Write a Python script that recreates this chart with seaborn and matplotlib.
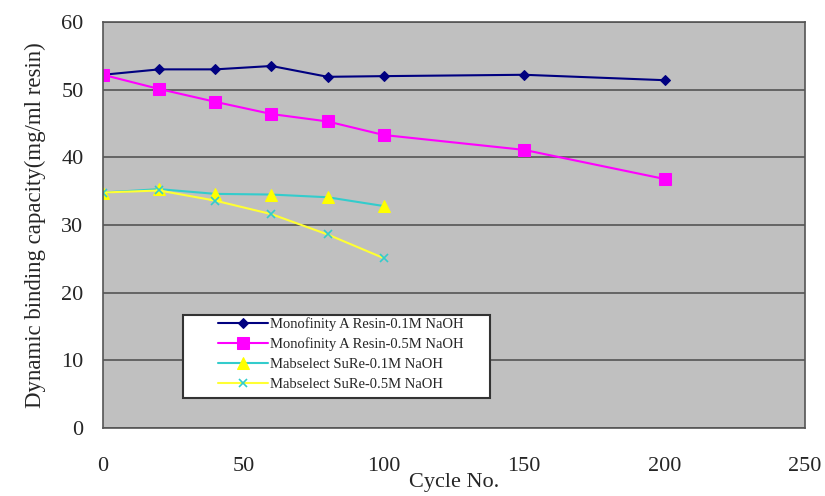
import matplotlib
matplotlib.use("Agg")
import matplotlib.pyplot as plt
from matplotlib.patches import Rectangle
import seaborn as sns
import pandas as pd

cycles_long = [0, 20, 40, 60, 80, 100, 150, 200]
mono_01 = [52.2, 53.0, 53.0, 53.5, 51.9, 52.0, 52.2, 51.4]
mono_05 = [52.2, 50.1, 48.2, 46.4, 45.3, 43.3, 41.1, 36.8]
cycles_short = [0, 20, 40, 60, 80, 100]
mab_01 = [34.8, 35.3, 34.6, 34.5, 34.1, 32.8]
mab_05 = [34.8, 35.1, 33.6, 31.6, 28.6, 25.1]

labels = ["Monofinity A Resin-0.1M NaOH", "Monofinity A Resin-0.5M NaOH",
          "Mabselect SuRe-0.1M NaOH", "Mabselect SuRe-0.5M NaOH"]
x_ticks = [0, 50, 100, 150, 200, 250]
y_ticks = [0, 10, 20, 30, 40, 50, 60]

sns.set_theme(style="white")
plt.rcParams['font.family'] = ['Liberation Serif', 'DejaVu Serif']

W, H = 825, 496
L, R, T, B = 103, 805, 22, 428
fig = plt.figure(figsize=(W/100, H/100), dpi=100)
ax = fig.add_axes([L/W, 1-B/H, (R-L)/W, (B-T)/H])
ax.set_facecolor("#c0c0c0")

styles = [
    dict(color="#000080", marker="D", markersize=5, markerfacecolor="#000080", markeredgecolor="#000080", linewidth=1.5),
    dict(color="#ff00ff", marker="s", markersize=8, markerfacecolor="#ff00ff", markeredgecolor="#ff00ff", linewidth=1.5),
    dict(color="#33cccc", marker="^", markersize=8, markerfacecolor="#ffff00", markeredgecolor="#ffff00", linewidth=1.5),
    dict(color="#ffff33", marker="x", markersize=6, markerfacecolor="#33cccc", markeredgecolor="#33cccc", markeredgewidth=1.2, linewidth=1.5),
]
series = [(cycles_long, mono_01), (cycles_long, mono_05), (cycles_short, mab_01), (cycles_short, mab_05)]
for (xs, ys), lab, st in zip(series, labels, styles):
    df = pd.DataFrame({"x": xs, "y": ys})
    sns.lineplot(data=df, x="x", y="y", ax=ax, label=lab, **st)

ax.set_xlim(0, 250)
ax.set_ylim(0, 60)
ax.set_xticks(x_ticks)
ax.set_yticks(y_ticks)
ax.yaxis.grid(True, color="#555555", linewidth=1.2)
ax.set_axisbelow(True)
for s in ax.spines.values():
    s.set_color("#555555")
    s.set_linewidth(1.2)
ax.tick_params(axis="x", direction="in", length=5, color="#555555", pad=21, labelsize=16)
ax.tick_params(axis="y", direction="out", length=0, pad=14, labelsize=16)
ax.set_xlabel("Cycle No.", fontsize=16, labelpad=-2)
ax.set_ylabel("Dynamic binding capacity(mg/ml resin)", fontsize=16.5, labelpad=11)

# legend frame box
fx0, fx1, fy0, fy1 = 183, 490, 315, 398
frame = Rectangle(((fx0-L)/(R-L), (B-fy1)/(B-T)), (fx1-fx0)/(R-L), (fy1-fy0)/(B-T),
                  transform=ax.transAxes, facecolor="white", edgecolor="#333333",
                  linewidth=1.5, zorder=4)
ax.add_patch(frame)
leg = ax.legend(loc="upper left", bbox_to_anchor=((218-L)/(R-L), (B-317)/(B-T)),
                frameon=False, fontsize=10.5, handlelength=3.4, labelspacing=0.45,
                borderpad=0, handletextpad=0.15, borderaxespad=0)
leg.set_zorder(5)

fig.savefig("out.png", dpi=100)
